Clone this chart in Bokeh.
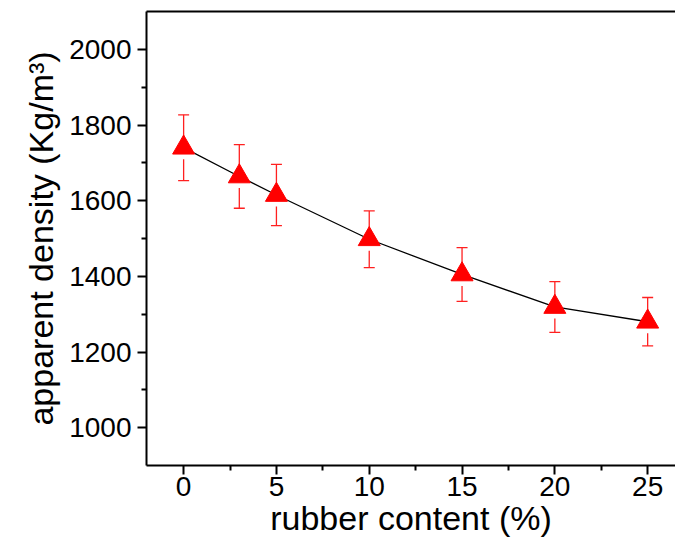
import numpy as np
from bokeh.plotting import figure
from bokeh.models import LinearAxis, FixedTicker, ColumnDataSource, Range1d
from bokeh.embed import file_html
from bokeh.resources import INLINE

# data
rubber = [0, 3, 5, 10, 15, 20, 25]
density = [1740, 1664, 1615, 1498, 1405, 1319, 1280]
error = [87, 84, 81, 75, 71, 67, 64]

x_ticks = [0, 5, 10, 15, 20, 25]
x_minor = [2.5, 7.5, 12.5, 17.5, 22.5]
y_ticks = [1000, 1200, 1400, 1600, 1800, 2000]
y_minor = [1100, 1300, 1500, 1700, 1900]

src = ColumnDataSource(dict(
    x=rubber, y=density,
    lo=[d - e for d, e in zip(density, error)],
    hi=[d + e for d, e in zip(density, error)],
))

FONT = "Liberation Sans"

p = figure(width=675, height=545, output_backend="svg", toolbar_location=None,
           x_range=Range1d(-2, 26.5), y_range=Range1d(900, 2100),
           min_border_left=146, min_border_right=0, min_border_top=11,
           min_border_bottom=80, x_axis_location=None, y_axis_location=None)
p.outline_line_color = None
p.xgrid.visible = False
p.ygrid.visible = False
p.background_fill_color = "white"
p.border_fill_color = "white"

xaxis = LinearAxis(ticker=FixedTicker(ticks=x_ticks, minor_ticks=x_minor),
                   axis_label="rubber content (%)")
yaxis = LinearAxis(ticker=FixedTicker(ticks=y_ticks, minor_ticks=y_minor),
                   axis_label="apparent density (Kg/m³)")
for ax in (xaxis, yaxis):
    ax.axis_line_width = 2
    ax.axis_line_color = "black"
    ax.major_tick_line_width = 2
    ax.minor_tick_line_width = 2
    ax.major_tick_out = 9
    ax.major_tick_in = 0
    ax.minor_tick_out = 5
    ax.minor_tick_in = 0
    ax.major_label_text_font = FONT
    ax.major_label_text_font_size = "28px"
    ax.major_label_text_color = "black"
    ax.axis_label_text_font = FONT
    ax.axis_label_text_font_size = "34px"
    ax.axis_label_text_font_style = "normal"
    ax.axis_label_text_color = "black"
xaxis.major_label_standoff = 2
xaxis.axis_label_standoff = 0
yaxis.major_label_standoff = 6
yaxis.axis_label_standoff = 6
p.add_layout(xaxis, "below")
p.add_layout(yaxis, "left")

top = LinearAxis(ticker=FixedTicker(ticks=[]), major_label_text_font_size="0px")
top.axis_line_width = 2
top.major_tick_out = 0
top.minor_tick_out = 0
p.add_layout(top, "above")

# connecting line
p.line("x", "y", source=src, line_color="black", line_width=1.3)
# error bars
p.segment(x0="x", y0="lo", x1="x", y1="hi", source=src, line_color="#ff2020", line_width=1.3)
p.scatter("x", "lo", source=src, marker="dash", size=11, line_color="#ff2020", line_width=1.3)
p.scatter("x", "hi", source=src, marker="dash", size=11, line_color="#ff2020", line_width=1.3)
# gap below the symbol
p.scatter("x", "y", source=src, marker="dash", size=23, angle=np.pi / 2,
          line_color="white", line_width=4)
# symbols
p.scatter("x", "y", source=src, marker="triangle", size=22,
          fill_color="red", line_color="red", line_width=1)

open("out.html", "w").write(file_html(p, INLINE))
